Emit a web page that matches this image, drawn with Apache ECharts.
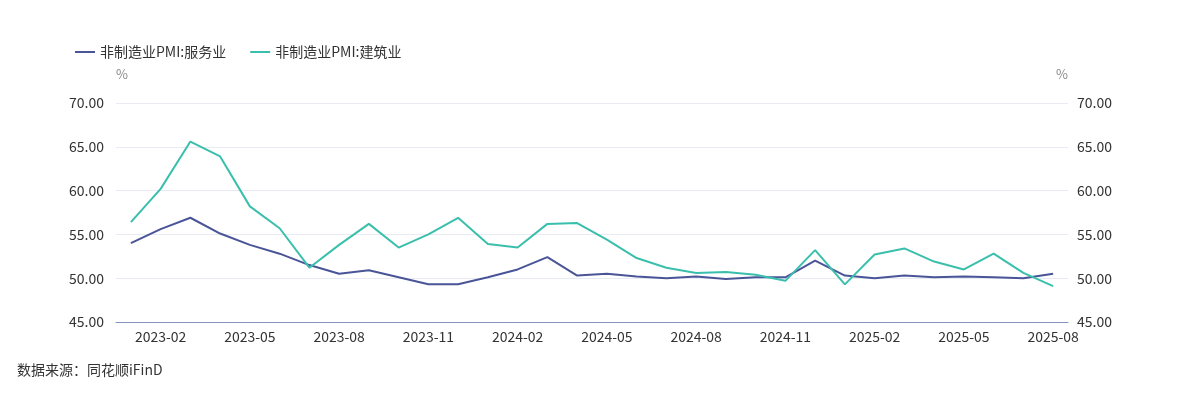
<!DOCTYPE html>
<html>
<head>
<meta charset="utf-8">
<script src="https://cdn.jsdelivr.net/npm/echarts@6/dist/echarts.min.js"></script>
<style>
  html, body { margin: 0; padding: 0; background: #fff; }
  #main { width: 1184px; height: 398px; }
</style>
</head>
<body>
<div id="main"></div>
<script>
// 月份
var months = [
  '2023-01','2023-02','2023-03','2023-04','2023-05','2023-06','2023-07','2023-08','2023-09','2023-10','2023-11','2023-12',
  '2024-01','2024-02','2024-03','2024-04','2024-05','2024-06','2024-07','2024-08','2024-09','2024-10','2024-11','2024-12',
  '2025-01','2025-02','2025-03','2025-04','2025-05','2025-06','2025-07','2025-08'
];
// 非制造业PMI:服务业
var services = [
  54.0, 55.6, 56.9, 55.1, 53.8, 52.8, 51.5, 50.5, 50.9, 50.1, 49.3, 49.3,
  50.1, 51.0, 52.4, 50.3, 50.5, 50.2, 50.0, 50.2, 49.9, 50.1, 50.1, 52.0,
  50.3, 50.0, 50.3, 50.1, 50.2, 50.1, 50.0, 50.5
];
// 非制造业PMI:建筑业
var construction = [
  56.4, 60.2, 65.6, 63.9, 58.2, 55.7, 51.2, 53.8, 56.2, 53.5, 55.0, 56.9,
  53.9, 53.5, 56.2, 56.3, 54.4, 52.3, 51.2, 50.6, 50.7, 50.4, 49.7, 53.2,
  49.3, 52.7, 53.4, 51.9, 51.0, 52.8, 50.6, 49.1
];
var seriesNames = ['非制造业PMI:服务业', '非制造业PMI:建筑业'];
var yMin = 45, yMax = 70, yStep = 5;

var font = '"Noto Sans CJK SC", "Noto Sans", sans-serif';
var chart = echarts.init(document.getElementById('main'));

function yAxisCfg(pos) {
  return {
    type: 'value',
    position: pos,
    min: yMin,
    max: yMax,
    interval: yStep,
    name: '%',
    nameLocation: 'end',
    nameGap: 22,
    nameTextStyle: {
      color: '#888',
      fontSize: 13,
      fontFamily: font,
      padding: pos === 'left' ? [0, 0, 0, 12] : [0, 12, 0, 0]
    },
    axisLine: { show: false },
    axisTick: { show: false },
    axisLabel: {
      color: '#333',
      fontSize: 14,
      fontFamily: font,
      margin: pos === 'left' ? 12 : 9,
      formatter: function (v) { return v.toFixed(2); }
    },
    splitLine: {
      show: pos === 'left',
      lineStyle: { color: '#e9ebf4', width: 1 }
    }
  };
}

var option = {
  animation: false,
  color: ['#4a5598', '#3bbfad'],
  legend: {
    left: 70,
    top: 40,
    itemWidth: 20,
    itemHeight: 10,
    itemGap: 24,
    icon: 'path://M0,4 L20,4 L20,6 L0,6 Z',
    textStyle: { color: '#333', fontSize: 14, fontFamily: font },
    data: seriesNames
  },
  grid: { left: 116, right: 116, top: 103, bottom: 76 },
  xAxis: {
    type: 'category',
    data: months,
    boundaryGap: true,
    axisLine: { lineStyle: { color: '#8593bd', width: 1 } },
    axisTick: { show: false },
    axisLabel: {
      color: '#333',
      fontSize: 14,
      fontFamily: font,
      margin: 8,
      interval: function (i) { return i % 3 === 1; }
    },
    splitLine: { show: false }
  },
  yAxis: [yAxisCfg('left'), yAxisCfg('right')],
  series: [
    {
      name: seriesNames[0],
      type: 'line',
      yAxisIndex: 0,
      data: services,
      showSymbol: false,
      lineStyle: { width: 2 }
    },
    {
      name: seriesNames[1],
      type: 'line',
      yAxisIndex: 1,
      data: construction,
      showSymbol: false,
      lineStyle: { width: 2 }
    }
  ],
  graphic: [{
    type: 'text',
    left: 17,
    top: 363,
    style: { text: '数据来源：同花顺iFinD', fill: '#333', fontSize: 14, fontFamily: font }
  }]
};
chart.setOption(option);
</script>
</body>
</html>
